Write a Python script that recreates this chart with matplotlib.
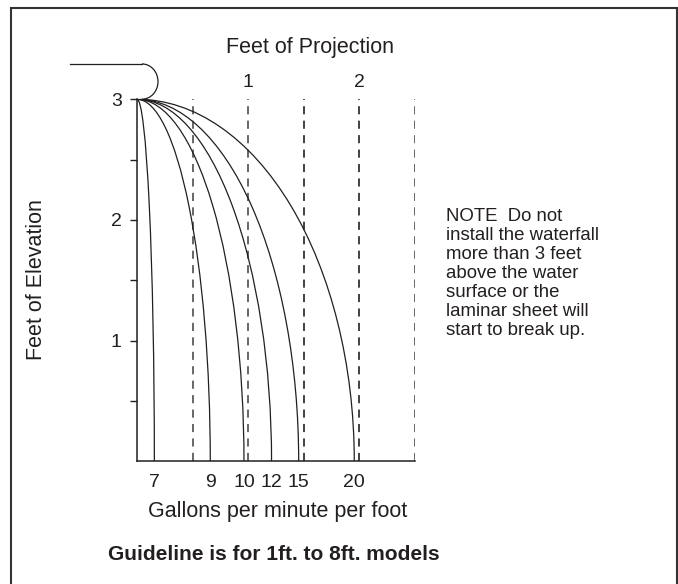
import matplotlib.pyplot as plt
from matplotlib.patches import Arc, Rectangle

plt.rcParams['font.family'] = ['Liberation Sans', 'DejaVu Sans']

# flow rates (gallons per minute per foot) and where each sheet lands (feet of projection)
gpm = [7, 9, 10, 12, 15, 20]
reach_ft = [0.156, 0.659, 0.962, 1.21, 1.454, 1.954]
fall_height = 3.0

grid_x = [0.5, 1.0, 1.5, 2.0, 2.5]
grid_colors = ['#5a5a5a', '#5a5a5a', '#333333', '#333333', '#5a5a5a']
elev_major = [1, 2, 3]
elev_minor = [0.5, 1.5, 2.5]
proj_labels = [1, 2]

note = ("NOTE  Do not\ninstall the waterfall\nmore than 3 feet\nabove the water\n"
        "surface or the\nlaminar sheet will\nstart to break up.")

ink = '#231f20'

fig = plt.figure(figsize=(6.78, 5.84), dpi=100)
ax = fig.add_axes([137 / 678, 1 - 461.4 / 584, 278 / 678, 362.1 / 584])
ax.set_xlim(0, 2.5)
ax.set_ylim(0, 3)

# dashed projection guides
for gx, gc in zip(grid_x, grid_colors):
    ax.plot([gx, gx], [0, fall_height], ls=(0, (4.5, 3.5)), lw=1.3, color=gc, zorder=1)

# sheet trajectories (quarter ellipses from the lip down to the water)
for r in reach_ft:
    ax.add_patch(Arc((0, 0), 2 * r, 2 * fall_height, theta1=0, theta2=90,
                     lw=0.9, color=ink, zorder=2))

# nozzle lip
ax.plot([-0.603, 0.045], [3.293, 3.293], lw=0.9, color=ink, clip_on=False)
ax.plot([0, 0.045], [3.0, 3.0], lw=0.9, color=ink, clip_on=False)
ax.add_patch(Arc((0.045, 3.147), 0.288, 0.292, theta1=-90, theta2=90,
                 lw=0.9, color=ink, clip_on=False))

for s in ['top', 'right']:
    ax.spines[s].set_visible(False)
for s in ['left', 'bottom']:
    ax.spines[s].set_color(ink)
    ax.spines[s].set_linewidth(1.1)

ax.set_yticks(elev_major)
ax.set_yticklabels([str(v) for v in elev_major])
ax.set_yticks(elev_minor, minor=True)
ax.tick_params(axis='y', which='both', direction='out', length=5, width=1,
               color=ink, labelsize=14, labelcolor=ink, pad=6)

ax.set_xticks(reach_ft)
ax.set_xticklabels([str(g) for g in gpm])
ax.tick_params(axis='x', length=0, labelsize=14, labelcolor=ink, pad=9)

top = ax.secondary_xaxis('top')
top.set_xticks(proj_labels)
top.set_xticklabels([str(v) for v in proj_labels])
top.tick_params(length=0, labelsize=14, labelcolor=ink, pad=6)
top.spines['top'].set_visible(False)

fig.text(310 / 678, 1 - 47 / 584, 'Feet of Projection', ha='center', va='center',
         fontsize=15.5, color=ink)
fig.text(278 / 678, 1 - 512 / 584, 'Gallons per minute per foot', ha='center', va='center',
         fontsize=15.5, color=ink)
fig.text(37 / 678, 1 - 280 / 584, 'Feet of Elevation', ha='center', va='center',
         rotation=90, fontsize=15.5, color=ink)
fig.text(108 / 678, 1 - 554 / 584, 'Guideline is for 1ft. to 8ft. models', ha='left',
         va='center', fontsize=15, fontweight='bold', color=ink)
fig.text(446 / 678, 1 - 208 / 584, note, ha='left', va='top', fontsize=13.4,
         linespacing=1.16, color=ink)

# outer frame
fig.patches.append(Rectangle((11 / 678, -0.02), 666 / 678, 1 - 8 / 584 + 0.02,
                             transform=fig.transFigure, fill=False, lw=1.5,
                             edgecolor='#333333'))

fig.savefig('out.png', dpi=100)
